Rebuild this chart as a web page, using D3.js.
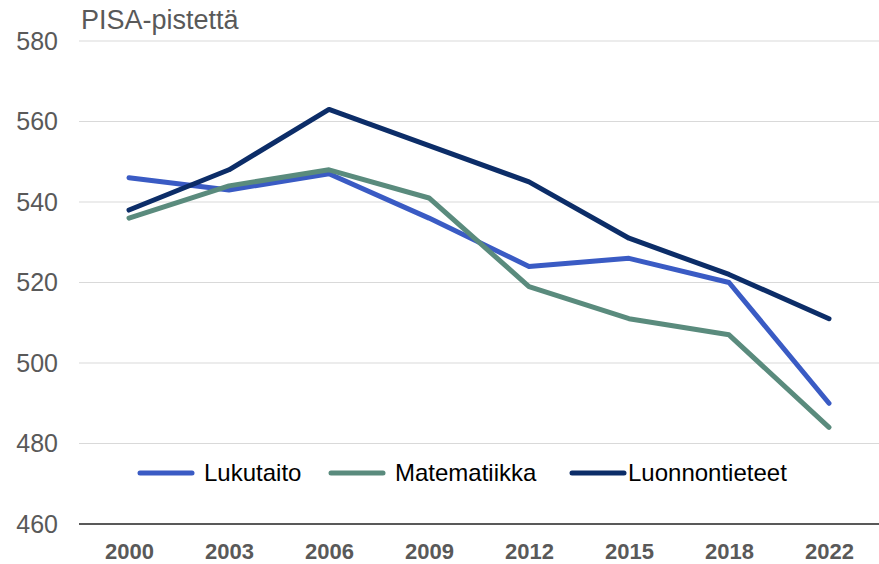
<!DOCTYPE html>
<html>
<head>
<meta charset="utf-8">
<script src="https://cdn.jsdelivr.net/npm/d3@7"></script>
<style>
  body { margin: 0; background: #fff; }
  svg { display: block; font-family: "Liberation Sans", Arial, sans-serif; }
</style>
</head>
<body>
<svg class="chart"></svg>
<script>
// PISA results, Finland
var years = ["2000", "2003", "2006", "2009", "2012", "2015", "2018", "2022"];
var lukutaito = [546, 543, 547, 536, 524, 526, 520, 490];
var matematiikka = [536, 544, 548, 541, 519, 511, 507, 484];
var luonnontieteet = [538, 548, 563, 554, 545, 531, 522, 511];
var yTicks = [460, 480, 500, 520, 540, 560, 580];

var series = [
    { name: "Lukutaito", values: lukutaito, color: "#3a5bc4" },
    { name: "Matematiikka", values: matematiikka, color: "#5a8b7d" },
    { name: "Luonnontieteet", values: luonnontieteet, color: "#0c2d68" }
];

var width = 879, height = 564;
var margin = { top: 41, right: 0, bottom: 40, left: 79 };

var svg = d3.select("svg.chart").attr("width", width).attr("height", height);

var x = d3.scalePoint()
    .domain(years)
    .range([margin.left, width - margin.right])
    .padding(0.5);

var y = d3.scaleLinear()
    .domain([460, 580])
    .range([height - margin.bottom, margin.top]);

// gridlines
svg.append("g")
    .selectAll("line")
    .data(yTicks.slice(1))
    .join("line")
    .attr("x1", margin.left).attr("x2", width)
    .attr("y1", d => y(d)).attr("y2", d => y(d))
    .attr("stroke", "#d9d9d9").attr("stroke-width", 1);

// y axis labels
var yAxis = svg.append("g")
    .attr("transform", "translate(" + (margin.left - 21) + ",0)")
    .call(d3.axisLeft(y).tickValues(yTicks).tickSize(0).tickPadding(0));
yAxis.select(".domain").remove();
yAxis.selectAll("text")
    .attr("font-size", 25).attr("fill", "#595959")
    .attr("font-family", "Liberation Sans, Arial, sans-serif");

// x axis
var xAxis = svg.append("g")
    .attr("transform", "translate(0," + y(460) + ")")
    .call(d3.axisBottom(x).tickSize(0).tickPadding(19));
xAxis.select(".domain").remove();
xAxis.selectAll("text")
    .attr("font-size", 22).attr("font-weight", "bold").attr("fill", "#595959")
    .attr("font-family", "Liberation Sans, Arial, sans-serif");
svg.append("line")
    .attr("x1", margin.left).attr("x2", width)
    .attr("y1", y(460)).attr("y2", y(460))
    .attr("stroke", "#595959").attr("stroke-width", 2);

// title
svg.append("text")
    .attr("x", 81).attr("y", 29)
    .attr("font-size", 27).attr("fill", "#595959")
    .text("PISA-pistettä");

// lines
var line = d3.line()
    .x((d, i) => x(years[i]))
    .y(d => y(d));

svg.append("g")
    .selectAll("path")
    .data(series)
    .join("path")
    .attr("d", d => line(d.values))
    .attr("fill", "none")
    .attr("stroke", d => d.color)
    .attr("stroke-width", 5)
    .attr("stroke-linejoin", "round")
    .attr("stroke-linecap", "round");

// legend
var legendPos = [140, 331, 572];
var legend = svg.append("g")
    .selectAll("g")
    .data(series)
    .join("g")
    .attr("transform", (d, i) => "translate(" + legendPos[i] + ",473)");
legend.append("line")
    .attr("x1", 0).attr("x2", 52)
    .attr("stroke", d => d.color).attr("stroke-width", 5)
    .attr("stroke-linecap", "round");
legend.append("text")
    .attr("x", (d, i) => i == 2 ? 56 : 64)
    .attr("dy", "0.35em")
    .attr("font-size", 24).attr("fill", "#000")
    .text(d => d.name);
</script>
</body>
</html>
